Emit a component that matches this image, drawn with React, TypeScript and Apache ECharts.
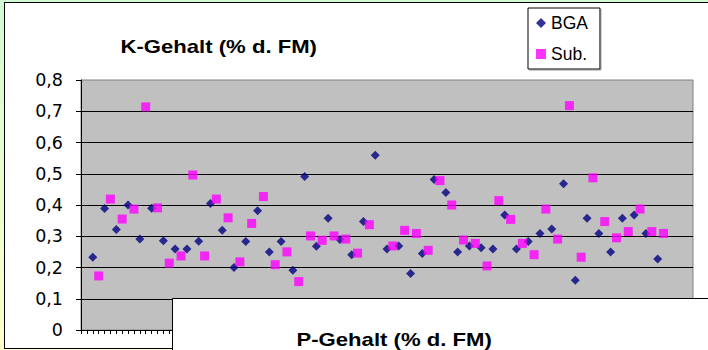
import React, { useEffect, useRef } from "react";
import * as echarts from "echarts";

// K content per sample slot; BGA and Sub. samples alternate along the x axis
const bgaValues: number[] = [
  0.233, 0.389, 0.322, 0.4, 0.291, 0.39, 0.286, 0.259, 0.259, 0.284,
  0.405, 0.319, 0.2, 0.283, 0.382, 0.25, 0.283, 0.191, 0.491, 0.268,
  0.358, 0.29, 0.241, 0.347, 0.559, 0.259, 0.269, 0.181, 0.245, 0.482,
  0.44, 0.25, 0.269, 0.263, 0.259, 0.368, 0.259, 0.283, 0.309, 0.323,
  0.468, 0.159, 0.358, 0.309, 0.25, 0.358, 0.368, 0.309, 0.227,
];

const subValues: (number | null)[] = [
  0.173, 0.419, 0.355, 0.387, 0.714, 0.391, 0.214, 0.237, 0.496, 0.237,
  0.419, 0.359, 0.218, 0.341, 0.427, 0.209, 0.25, 0.155, 0.301, 0.287,
  0.301, 0.291, 0.246, 0.337, null, 0.269, 0.319, 0.309, 0.255, 0.478,
  0.4, 0.288, 0.277, 0.205, 0.414, 0.354, 0.277, 0.241, 0.387, 0.291,
  0.718, 0.233, 0.487, 0.347, 0.295, 0.315, 0.387, 0.315, 0.309,
];

const slotCount = 104; // number of slots on the x axis (one tick per slot)
const bgaFirstSlot = 2;
const subFirstSlot = 3;
const slotStep = 2;

const yTickLabels = ["0", "0,1", "0,2", "0,3", "0,4", "0,5", "0,6", "0,7", "0,8"];

const seriesNames = ["BGA", "Sub."];
const yTitle = "K-Gehalt (% d. FM)";
const xTitle = "P-Gehalt (% d. FM)";

export default function App() {
  const ref = useRef<HTMLDivElement | null>(null);

  useEffect(() => {
    if (!ref.current) return;
    const chart = echarts.init(ref.current, undefined, { renderer: "svg" });

    const bgaData = bgaValues.map((v, k) => [bgaFirstSlot + slotStep * k, v]);
    const subData = subValues
      .map((v, k) => (v == null ? null : [subFirstSlot + slotStep * k, v]))
      .filter((d) => d !== null) as number[][];

    chart.setOption({
      animation: false,
      backgroundColor: "transparent",
      grid: {
        left: 81,
        right: 15,
        top: 80,
        bottom: 20,
        show: true,
        backgroundColor: "#c0c0c0",
        borderColor: "#808080",
        borderWidth: 1,
      },
      xAxis: {
        type: "value",
        min: 0,
        max: slotCount,
        interval: 1,
        axisLine: { show: true, lineStyle: { color: "#000", width: 1 } },
        axisTick: { show: true, length: 4, lineStyle: { color: "#000" } },
        axisLabel: { show: false },
        splitLine: { show: false },
      },
      yAxis: {
        type: "value",
        min: 0,
        max: 0.8,
        interval: 0.1,
        axisLine: { show: true, lineStyle: { color: "#000", width: 1 } },
        axisTick: { show: true, length: 5, lineStyle: { color: "#000" } },
        axisLabel: {
          color: "#000",
          fontFamily: "DejaVu Sans",
          fontSize: 17.5,
          margin: 18,
          formatter: (v: number) => yTickLabels[Math.round(v * 10)],
        },
        splitLine: {
          show: true,
          showMinLine: false,
          showMaxLine: false,
          lineStyle: { color: "#000", width: 1 },
        },
      },
      legend: {
        orient: "vertical",
        left: 528,
        top: 8,
        padding: [5, 12, 5, 8],
        itemGap: 11,
        itemWidth: 10,
        itemHeight: 10,
        backgroundColor: "#fff",
        borderColor: "#000",
        borderWidth: 1,
        shadowColor: "#999",
        shadowOffsetX: 1,
        shadowOffsetY: 1,
        textStyle: {
          color: "#000",
          fontFamily: "Liberation Sans",
          fontSize: 17.5,
          lineHeight: 20,
        },
        data: seriesNames,
      },
      series: [
        {
          name: seriesNames[0],
          type: "scatter",
          symbol: "diamond",
          symbolSize: 9,
          itemStyle: { color: "#000080" },
          data: bgaData,
          silent: true,
        },
        {
          name: seriesNames[1],
          type: "scatter",
          symbol: "rect",
          symbolSize: 9,
          itemStyle: { color: "#ff00ff" },
          data: subData,
          silent: true,
        },
      ],
      graphic: [
        {
          type: "text",
          x: 120.5,
          y: 47,
          scaleX: 1.25,
          z: 10,
          style: {
            text: yTitle,
            fill: "#000",
            fontFamily: "Liberation Sans",
            fontWeight: "bold",
            fontSize: 17.7,
            textAlign: "left",
            textVerticalAlign: "middle",
          },
        },
        {
          type: "rect",
          z: 100,
          shape: { x: 172.5, y: 298.5, width: 600, height: 100 },
          style: { fill: "#fff", stroke: "#000", lineWidth: 1 },
        },
        {
          type: "text",
          x: 296.5,
          y: 340,
          scaleX: 1.25,
          z: 101,
          style: {
            text: xTitle,
            fill: "#000",
            fontFamily: "Liberation Sans",
            fontWeight: "bold",
            fontSize: 17.7,
            textAlign: "left",
            textVerticalAlign: "middle",
          },
        },
      ],
    });

    return () => chart.dispose();
  }, []);

  return (
    <div
      style={{
        position: "fixed",
        left: 0,
        top: 0,
        width: 708,
        height: 350,
        overflow: "hidden",
        background: "linear-gradient(to bottom, #d2fad2, #ffffcc)",
      }}
    >
      <div
        style={{
          position: "absolute",
          left: 4,
          top: 2,
          width: 800,
          height: 347,
          boxSizing: "border-box",
          border: "1px solid #000",
          background: "#fff",
        }}
      />
      <div
        ref={ref}
        style={{ position: "absolute", left: 0, top: 0, width: 708, height: 350 }}
      />
    </div>
  );
}
